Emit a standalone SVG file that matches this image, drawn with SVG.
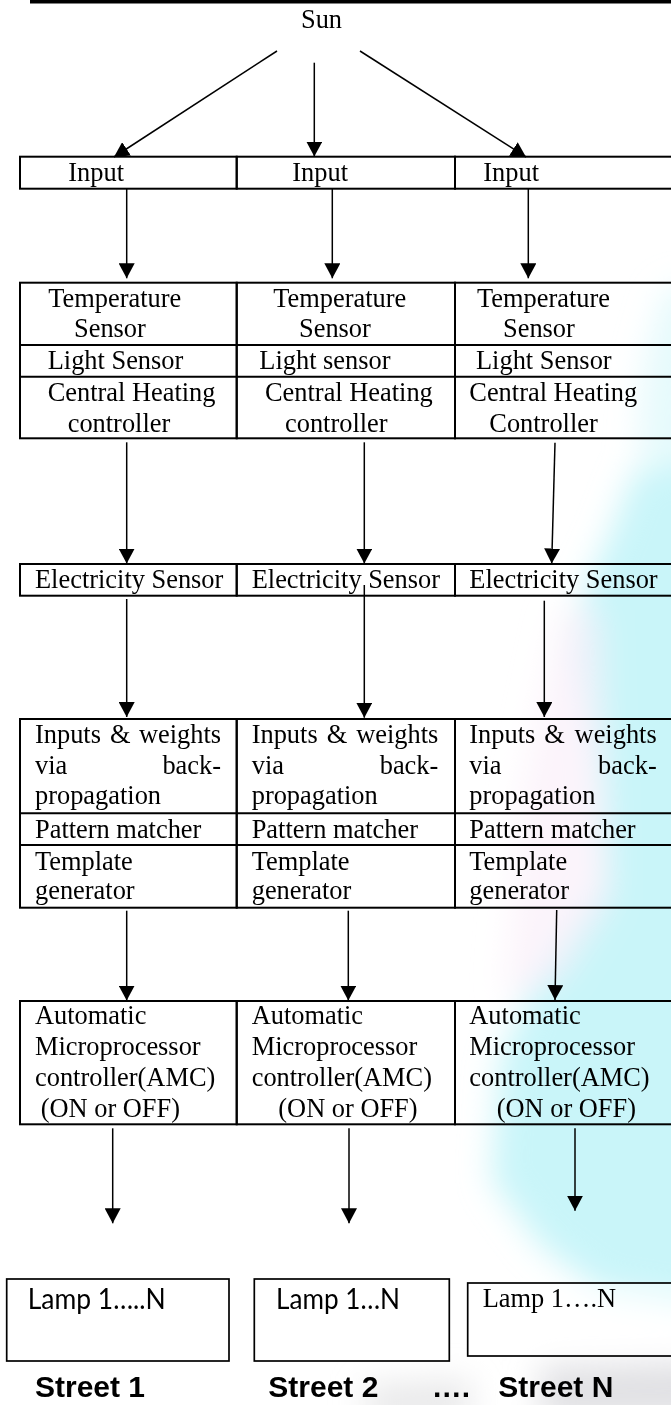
<svg xmlns="http://www.w3.org/2000/svg" width="671" height="1405" viewBox="0 0 671 1405">
<style>
.t{font-family:"Liberation Serif","Times New Roman",serif;font-size:26.4px;fill:#000}
.box{fill:none;stroke:#000;stroke-width:2}
.ln{stroke:#000;stroke-width:1.5;fill:none;marker-end:url(#ah)}
.lamp{font-family:Lato,"Liberation Sans",sans-serif;font-size:28px;fill:#000}
.st{font-family:"Liberation Sans",Arial,sans-serif;font-weight:bold;font-size:30px;fill:#000}
.lb{fill:#fff;stroke:#000;stroke-width:1.7}
</style>
<defs>
<marker id="ah" markerUnits="userSpaceOnUse" markerWidth="15" markerHeight="16" viewBox="0 0 14 15" refX="14" refY="7.5" orient="auto">
<path d="M0,0 L14,7.5 L0,15 Z" fill="#000"/>
</marker>
<filter id="blur" x="-60%" y="-20%" width="220%" height="140%">
<feGaussianBlur stdDeviation="16"/>
</filter>
</defs>
<rect width="671" height="1405" fill="#fff"/>
<g id="background" filter="url(#blur)">
<path d="M720,280 L665,290 L645,360 L638,460 L720,470 Z" fill="#dcf8fb" opacity="0.7"/>
<path d="M720,460 L635,470 L612,530 L585,590 L570,650 L595,760 L605,880 L545,960 L500,1060 L492,1180 L540,1245 L600,1290 L720,1310 Z" fill="#c9f5f9"/>
<path d="M560,610 L600,610 L610,900 L560,980 L505,1000 L520,800 Z" fill="#fbeff9" opacity="0.7"/>
<path d="M540,1365 L720,1360 L720,1420 L540,1420 Z" fill="#d9d9dd" opacity="0.8"/>
<path d="M365,1385 L470,1380 L470,1420 L365,1420 Z" fill="#e2e2e4" opacity="0.8"/>
</g>
<rect id="topbar" x="30" y="0" width="650" height="3.5" fill="#000"/>

<g id="sun"><text class="t" x="301" y="27.7">Sun</text></g>

<g id="input-1"><rect class="box" x="20" y="156.7" width="216.7" height="32"/><text class="t" x="68.3" y="181">Input</text></g>
<g id="input-2"><rect class="box" x="236.7" y="156.7" width="218.3" height="32"/><text class="t" x="292.3" y="181">Input</text></g>
<g id="input-3"><rect class="box" x="455" y="156.7" width="225" height="32"/><text class="t" x="483.3" y="181">Input</text></g>

<g id="sensors-1"><rect class="box" x="20" y="282.7" width="216.7" height="155.6"/><line class="box" x1="20" y1="345" x2="236.7" y2="345"/><line class="box" x1="20" y1="376.7" x2="236.7" y2="376.7"/>
<text class="t" x="48.3" y="306.7">Temperature</text><text class="t" x="74" y="336.7">Sensor</text><text class="t" x="47.7" y="369">Light Sensor</text><text class="t" x="47.7" y="400.7">Central Heating</text><text class="t" x="67.7" y="431.7">controller</text></g>
<g id="sensors-2"><rect class="box" x="236.7" y="282.7" width="218.3" height="155.6"/><line class="box" x1="236.7" y1="345" x2="455" y2="345"/><line class="box" x1="236.7" y1="376.7" x2="455" y2="376.7"/>
<text class="t" x="273.3" y="306.7">Temperature</text><text class="t" x="299" y="336.7">Sensor</text><text class="t" x="259.3" y="369">Light sensor</text><text class="t" x="265" y="400.7">Central Heating</text><text class="t" x="285" y="431.7">controller</text></g>
<g id="sensors-3"><rect class="box" x="455" y="282.7" width="225" height="155.6"/><line class="box" x1="455" y1="345" x2="680" y2="345"/><line class="box" x1="455" y1="376.7" x2="680" y2="376.7"/>
<text class="t" x="477" y="306.7">Temperature</text><text class="t" x="503" y="336.7">Sensor</text><text class="t" x="476" y="369">Light Sensor</text><text class="t" x="469.3" y="400.7">Central Heating</text><text class="t" x="489.3" y="431.7">Controller</text></g>

<g id="elec-1"><rect class="box" x="20" y="564" width="216.7" height="31.7"/><text class="t" x="35" y="588.3">Electricity Sensor</text></g>
<g id="elec-2"><rect class="box" x="236.7" y="564" width="218.3" height="31.7"/><text class="t" x="251.7" y="588.3">Electricity Sensor</text></g>
<g id="elec-3"><rect class="box" x="455" y="564" width="225" height="31.7"/><text class="t" x="469.3" y="588.3">Electricity Sensor</text></g>

<g id="nn-1"><rect class="box" x="20" y="719" width="216.7" height="188.7"/><line class="box" x1="20" y1="813.3" x2="236.7" y2="813.3"/><line class="box" x1="20" y1="845" x2="236.7" y2="845"/>
<text class="t" x="35" y="743.3">Inputs</text><text class="t" x="110" y="743.3">&amp;</text><text class="t" x="221" y="743.3" text-anchor="end">weights</text>
<text class="t" x="35" y="774.3">via</text><text class="t" x="221" y="774.3" text-anchor="end">back-</text>
<text class="t" x="35" y="804.3">propagation</text><text class="t" x="35" y="838.3">Pattern matcher</text><text class="t" x="35" y="870">Template</text><text class="t" x="35" y="899.3">generator</text></g>
<g id="nn-2"><rect class="box" x="236.7" y="719" width="218.3" height="188.7"/><line class="box" x1="236.7" y1="813.3" x2="455" y2="813.3"/><line class="box" x1="236.7" y1="845" x2="455" y2="845"/>
<text class="t" x="251.7" y="743.3">Inputs</text><text class="t" x="326.7" y="743.3">&amp;</text><text class="t" x="438.3" y="743.3" text-anchor="end">weights</text>
<text class="t" x="251.7" y="774.3">via</text><text class="t" x="438.3" y="774.3" text-anchor="end">back-</text>
<text class="t" x="251.7" y="804.3">propagation</text><text class="t" x="251.7" y="838.3">Pattern matcher</text><text class="t" x="251.7" y="870">Template</text><text class="t" x="251.7" y="899.3">generator</text></g>
<g id="nn-3"><rect class="box" x="455" y="719" width="225" height="188.7"/><line class="box" x1="455" y1="813.3" x2="680" y2="813.3"/><line class="box" x1="455" y1="845" x2="680" y2="845"/>
<text class="t" x="469.3" y="743.3">Inputs</text><text class="t" x="544.3" y="743.3">&amp;</text><text class="t" x="656.7" y="743.3" text-anchor="end">weights</text>
<text class="t" x="469.3" y="774.3">via</text><text class="t" x="656.7" y="774.3" text-anchor="end">back-</text>
<text class="t" x="469.3" y="804.3">propagation</text><text class="t" x="469.3" y="838.3">Pattern matcher</text><text class="t" x="469.3" y="870">Template</text><text class="t" x="469.3" y="899.3">generator</text></g>

<g id="amc-1"><rect class="box" x="20" y="1001" width="216.7" height="123.3"/>
<text class="t" x="35" y="1024">Automatic</text><text class="t" x="35" y="1055">Microprocessor</text><text class="t" x="35" y="1086">controller(AMC)</text><text class="t" x="40.7" y="1116.7">(ON or OFF)</text></g>
<g id="amc-2"><rect class="box" x="236.7" y="1001" width="218.3" height="123.3"/>
<text class="t" x="251.7" y="1024">Automatic</text><text class="t" x="251.7" y="1055">Microprocessor</text><text class="t" x="251.7" y="1086">controller(AMC)</text><text class="t" x="278.3" y="1116.7">(ON or OFF)</text></g>
<g id="amc-3"><rect class="box" x="455" y="1001" width="225" height="123.3"/>
<text class="t" x="469.3" y="1024">Automatic</text><text class="t" x="469.3" y="1055">Microprocessor</text><text class="t" x="469.3" y="1086">controller(AMC)</text><text class="t" x="496.7" y="1116.7">(ON or OFF)</text></g>

<g id="lamp-1"><rect class="lb" x="6.7" y="1279" width="222.3" height="82"/><text class="lamp" x="27.7" y="1309" textLength="138" lengthAdjust="spacingAndGlyphs">Lamp 1…..N</text></g>
<g id="lamp-2"><rect class="lb" x="254.3" y="1279" width="195" height="82"/><text class="lamp" x="276" y="1309" textLength="124" lengthAdjust="spacingAndGlyphs">Lamp 1…N</text></g>
<g id="lamp-3"><rect class="lb" x="467.7" y="1283" width="215" height="73" fill-opacity="0.5"/><text class="t" x="482.7" y="1307">Lamp 1….N</text></g>

<g id="streets">
<text class="st" x="35" y="1397">Street 1</text>
<text class="st" x="268.3" y="1397">Street 2</text>
<text class="st" x="431.7" y="1397">….</text>
<text class="st" x="498.3" y="1397">Street N</text>
</g>

<g id="connectors">
<line class="ln" x1="277" y1="51" x2="114" y2="157"/>
<line class="ln" x1="314.3" y1="62.7" x2="314.3" y2="156.5"/>
<line class="ln" x1="360" y1="51" x2="526" y2="157"/>
<line class="ln" x1="126.7" y1="189" x2="126.7" y2="278.3"/>
<line class="ln" x1="332.3" y1="189" x2="332.3" y2="278.3"/>
<line class="ln" x1="528.3" y1="189" x2="528.3" y2="278.3"/>
<line class="ln" x1="126.7" y1="442.3" x2="126.7" y2="563.5"/>
<line class="ln" x1="364.3" y1="442.3" x2="364.3" y2="563.5"/>
<line class="ln" x1="555" y1="442.7" x2="551.7" y2="563.5"/>
<line class="ln" x1="126.7" y1="599" x2="126.7" y2="717"/>
<line class="ln" x1="364.3" y1="585" x2="364.3" y2="717.7"/>
<line class="ln" x1="544.3" y1="600.7" x2="544.3" y2="717"/>
<line class="ln" x1="126.7" y1="910.7" x2="126.7" y2="1000.5"/>
<line class="ln" x1="348.3" y1="910.7" x2="348.3" y2="1000.5"/>
<line class="ln" x1="556.7" y1="910" x2="555" y2="1000"/>
<line class="ln" x1="112.7" y1="1128.3" x2="112.7" y2="1223.3"/>
<line class="ln" x1="349" y1="1128.3" x2="349" y2="1223.3"/>
<line class="ln" x1="575" y1="1128.3" x2="575" y2="1210.7"/>
</g>
</svg>
